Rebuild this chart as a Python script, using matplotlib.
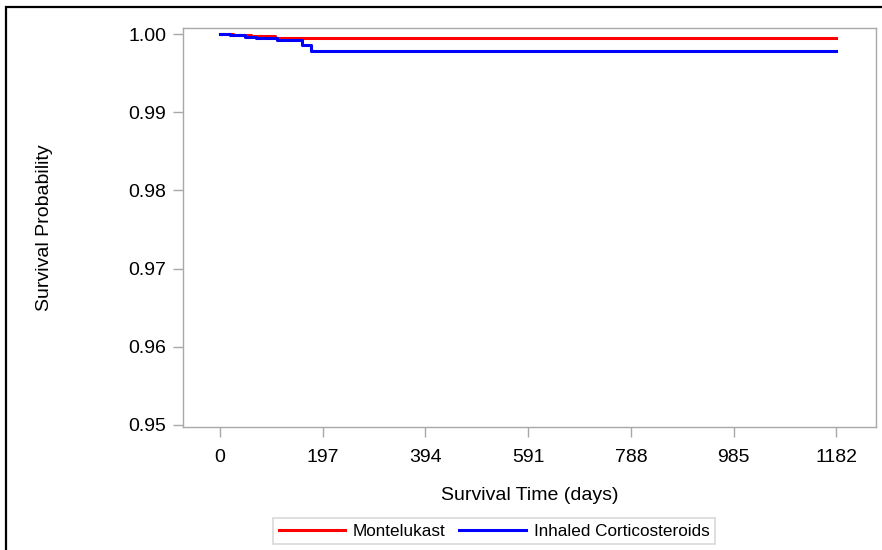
import matplotlib
matplotlib.use('Agg')
import matplotlib.pyplot as plt
from matplotlib.patches import Rectangle

plt.rcParams['font.family'] = ['Liberation Sans', 'DejaVu Sans']

# Kaplan-Meier step data (days, survival)
mont_days = [0, 25, 60, 105, 1182]
mont_surv = [1.0, 0.99985, 0.99975, 0.99955, 0.99955]
ics_days = [0, 19, 48, 69, 110, 157, 175, 1182]
ics_surv = [1.0, 0.99983, 0.99965, 0.9995, 0.9992, 0.9986, 0.9978, 0.9978]

xticks = [0, 197, 394, 591, 788, 985, 1182]
yticks = [0.95, 0.96, 0.97, 0.98, 0.99, 1.00]

fig = plt.figure(figsize=(8.82, 5.5), dpi=100)
ax = fig.add_axes([183/882, 1 - 427/550, (876 - 183)/882, (427 - 28)/550])

ax.step(mont_days, mont_surv, where='post', color='#ff0000', lw=2.2, label='Montelukast')
ax.step(ics_days, ics_surv, where='post', color='#0000ff', lw=2.2, label='Inhaled Corticosteroids')

ax.set_xlim(-71, 1258)
ax.set_ylim(0.94974, 1.00077)
ax.set_xticks(xticks)
ax.set_xticklabels([str(t) for t in xticks])
ax.set_yticks(yticks)
ax.set_yticklabels(['%.2f' % t for t in yticks])

for s in ax.spines.values():
    s.set_color('#a8a8a8')
    s.set_linewidth(1.0)
ax.tick_params(axis='both', colors='#a8a8a8', labelcolor='black', labelsize=14,
               length=7, width=1.0, pad=5)
ax.tick_params(axis='x', pad=9)

ax.set_xlabel('Survival Time (days)', fontsize=14, labelpad=15)
ax.set_ylabel('Survival Probability', fontsize=14, labelpad=54)

leg = fig.legend(loc='center', bbox_to_anchor=(494/882, 1 - 531/550), ncol=2,
                 fontsize=12.3, handlelength=3.9, frameon=True, fancybox=False,
                 borderpad=0.3, borderaxespad=0, columnspacing=0.8, handletextpad=0.45)
leg.get_frame().set_edgecolor('#d0d0d0')
leg.get_frame().set_linewidth(1.2)

# outer frame (left and top edges visible)
fig.patches.append(Rectangle((6/882, -0.05), 1.2, 1 - 7/550 + 0.05,
                             transform=fig.transFigure, fill=False,
                             edgecolor='black', linewidth=1.6))

fig.savefig('out.png', dpi=100)
